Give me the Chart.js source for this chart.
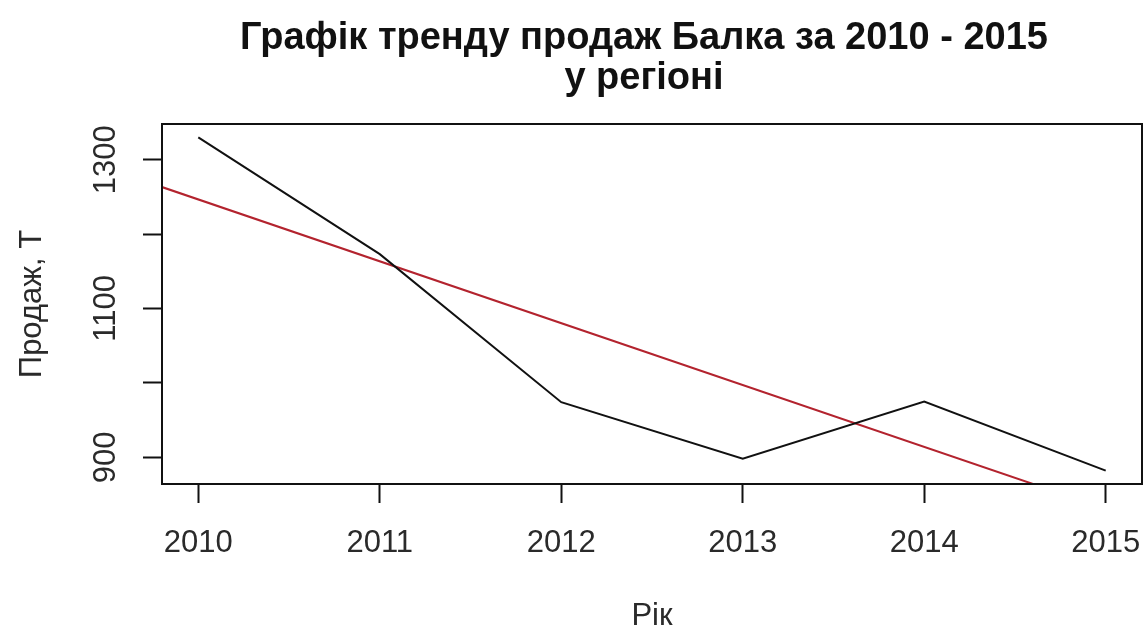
<!DOCTYPE html>
<html lang="uk">
<head>
<meta charset="utf-8">
<title>Графік тренду продаж Балка за 2010 - 2015 у регіоні</title>
<script src="https://cdn.jsdelivr.net/npm/chart.js@4.4.1/dist/chart.umd.min.js"></script>
<style>
  html, body { margin: 0; padding: 0; background: #ffffff; }
  canvas { display: block; }
</style>
</head>
<body>
<canvas id="chart" width="1146" height="637"></canvas>
<script>
// Sales of Balka by year (tonnes)
const years = [2010, 2011, 2012, 2013, 2014, 2015];
const sales = [1330, 1173, 974, 898, 975, 882];

// Axis ticks and their labels (R style: every other y label is left out)
const yearTicks = [2010, 2011, 2012, 2013, 2014, 2015];
const salesTicks = [900, 1000, 1100, 1200, 1300];
const salesTickLabels = ['900', '', '1100', '', '1300'];

const titleLines = ['Графік тренду продаж Балка за 2010 - 2015', 'у регіоні'];
const xLabel = 'Рік';
const yLabel = 'Продаж, Т';

const FONT = "'Liberation Sans', Arial, sans-serif";

// Axis limits padded by 4% of the data range, as in base R plots
function paddedRange(values) {
  const lo = Math.min(...values), hi = Math.max(...values);
  const pad = (hi - lo) * 0.04;
  return [lo - pad, hi + pad];
}
const [xMin, xMax] = paddedRange(years);
const [yMin, yMax] = paddedRange(sales);

// Least-squares linear trend of sales over years
const n = years.length;
const mx = years.reduce((a, b) => a + b, 0) / n;
const my = sales.reduce((a, b) => a + b, 0) / n;
let sxy = 0, sxx = 0;
for (let i = 0; i < n; i++) {
  sxy += (years[i] - mx) * (sales[i] - my);
  sxx += (years[i] - mx) * (years[i] - mx);
}
const slope = sxy / sxx;
const intercept = my - slope * mx;
const trend = [xMin, xMax].map(x => ({ x, y: intercept + slope * x }));

// Frame around the plotting region and the two-line main title
const framePlugin = {
  id: 'frame',
  afterDatasetsDraw(chart) {
    const { ctx, chartArea: a } = chart;
    ctx.save();
    ctx.strokeStyle = '#111111';
    ctx.lineWidth = 2;
    ctx.strokeRect(a.left, a.top, a.right - a.left, a.bottom - a.top);
    ctx.restore();
  },
  afterDraw(chart) {
    const { ctx } = chart;
    ctx.save();
    ctx.fillStyle = '#111111';
    ctx.font = 'bold 38px ' + FONT;
    ctx.textAlign = 'center';
    ctx.textBaseline = 'alphabetic';
    const cx = 644;
    ctx.fillText(titleLines[0], cx, 49);
    ctx.fillText(titleLines[1], cx, 89);
    ctx.restore();
  }
};

// Keep the tick labels from shrinking the plotting region
function noLabelPadding(scale) {
  scale.paddingLeft = 0;
  scale.paddingRight = 0;
  scale.paddingTop = 0;
  scale.paddingBottom = 0;
}

new Chart(document.getElementById('chart'), {
  type: 'line',
  data: {
    datasets: [
      {
        label: 'Продаж',
        data: years.map((y, i) => ({ x: y, y: sales[i] })),
        borderColor: '#111111',
        borderWidth: 2,
        pointRadius: 0,
        tension: 0
      },
      {
        label: 'Тренд',
        data: trend,
        borderColor: '#b3232e',
        borderWidth: 2,
        pointRadius: 0,
        tension: 0
      }
    ]
  },
  options: {
    responsive: false,
    animation: false,
    events: [],
    layout: { padding: { left: 0, right: 4, top: 124, bottom: 0 } },
    plugins: {
      legend: { display: false },
      tooltip: { enabled: false },
      title: { display: false }
    },
    scales: {
      x: {
        type: 'linear',
        min: xMin,
        max: xMax,
        afterBuildTicks(scale) { scale.ticks = yearTicks.map(v => ({ value: v })); },
        afterFit(scale) { scale.height = 153; noLabelPadding(scale); },
        border: { display: false },
        grid: { drawOnChartArea: false, drawTicks: true, tickLength: 19, tickWidth: 2, tickColor: '#111111' },
        ticks: {
          autoSkip: false,
          maxRotation: 0,
          minRotation: 0,
          padding: 22,
          color: '#2a2a2a',
          font: { family: FONT, size: 31 },
          callback: v => String(v)
        },
        title: {
          display: true,
          text: xLabel,
          color: '#2a2a2a',
          font: { family: FONT, size: 31 },
          padding: { top: 0, bottom: 2 }
        }
      },
      y: {
        type: 'linear',
        min: yMin,
        max: yMax,
        afterBuildTicks(scale) { scale.ticks = salesTicks.map(v => ({ value: v })); },
        afterFit(scale) { scale.width = 162; noLabelPadding(scale); },
        border: { display: false },
        grid: { drawOnChartArea: false, drawTicks: true, tickLength: 19, tickWidth: 2, tickColor: '#111111' },
        ticks: {
          autoSkip: false,
          minRotation: 90,
          maxRotation: 90,
          crossAlign: 'center',
          padding: 2,
          color: '#2a2a2a',
          font: { family: FONT, size: 31 },
          callback: v => salesTickLabels[salesTicks.indexOf(v)] ?? ''
        },
        title: {
          display: true,
          text: yLabel,
          color: '#2a2a2a',
          font: { family: FONT, size: 31 },
          padding: { top: 14, bottom: 0 }
        }
      }
    }
  },
  plugins: [framePlugin]
});
</script>
</body>
</html>
